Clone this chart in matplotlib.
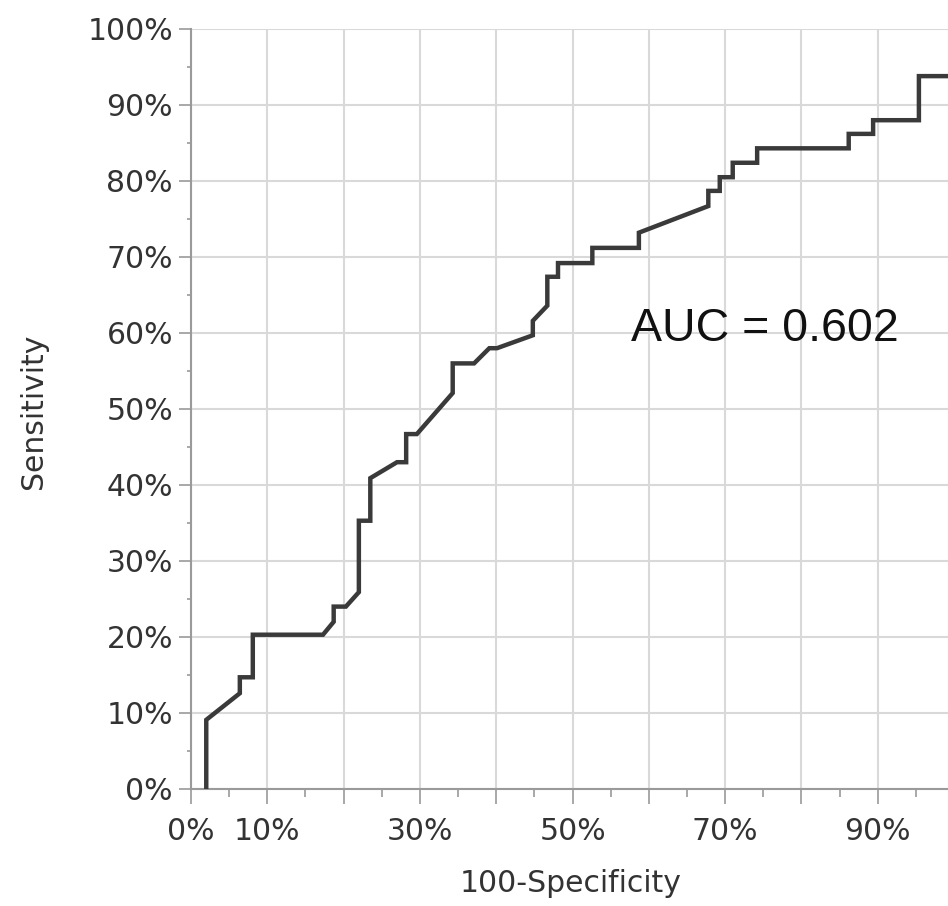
import numpy as np
import matplotlib
matplotlib.use('Agg')
import matplotlib.pyplot as plt
from matplotlib.ticker import MultipleLocator, FuncFormatter

# ROC curve (in %)
fpr = [2.0, 2.0, 6.4, 6.4, 8.1, 8.1, 17.3, 18.7, 18.7, 20.3, 22.0, 22.0,
       23.5, 23.5, 27.0, 28.2, 28.2, 29.6, 34.3, 34.3, 37.1, 39.1, 40.1,
       44.8, 44.8, 46.7, 46.7, 48.1, 48.1, 52.6, 52.6, 58.7, 58.7, 67.8,
       67.8, 69.3, 69.3, 71.0, 71.0, 74.2, 74.2, 86.2, 86.2, 89.4, 89.4,
       95.4, 95.4, 100.0]
tpr = [0.0, 9.1, 12.6, 14.7, 14.7, 20.3, 20.3, 22.0, 24.0, 24.0, 25.9, 35.3,
       35.3, 40.9, 43.0, 43.0, 46.7, 46.7, 52.1, 56.0, 56.0, 58.0, 58.0,
       59.7, 61.6, 63.6, 67.4, 67.4, 69.2, 69.2, 71.2, 71.2, 73.2, 76.7,
       78.7, 78.7, 80.5, 80.5, 82.4, 82.4, 84.3, 84.3, 86.2, 86.2, 88.0,
       88.0, 93.8, 93.8]
auc_text = 'AUC = 0.602'
xlabels_shown = [0, 10, 30, 50, 70, 90]

W, H = 948, 906
fig = plt.figure(figsize=(W/100, H/100), dpi=100)
x0, x1, ytop, ybot = 191, 948, 29, 789
ax = fig.add_axes([x0/W, 1-ybot/H, (x1-x0)/W, (ybot-ytop)/H])

ax.plot(fpr, tpr, color='#3a3a3a', lw=3.2, solid_joinstyle='miter', zorder=3)

ax.set_xlim(0, (x1-x0)/7.63)
ax.set_ylim(0, 100)

ax.xaxis.set_major_locator(MultipleLocator(10))
ax.xaxis.set_minor_locator(MultipleLocator(5))
ax.yaxis.set_major_locator(MultipleLocator(10))
ax.yaxis.set_minor_locator(MultipleLocator(5))
ax.xaxis.set_major_formatter(FuncFormatter(
    lambda v, p: '%d%%' % round(v) if round(v) in xlabels_shown else ''))
ax.yaxis.set_major_formatter(FuncFormatter(lambda v, p: '%d%%' % round(v)))

ax.grid(True, which='major', color='#d9d9d9', lw=1.5, zorder=0)
ax.set_axisbelow(True)

for s in ['top', 'right']:
    ax.spines[s].set_visible(False)
for s in ['left', 'bottom']:
    ax.spines[s].set_color('#9a9a9a')
    ax.spines[s].set_linewidth(1.5)

ax.tick_params(axis='x', which='major', length=11, width=1.2, color='#9a9a9a',
               labelsize=21.5, labelcolor='#333333', pad=9)
ax.tick_params(axis='x', which='minor', length=6, width=1.2, color='#9a9a9a')
ax.tick_params(axis='y', which='major', length=9, width=1.2, color='#9a9a9a',
               labelsize=21.5, labelcolor='#333333', pad=4)
ax.tick_params(axis='y', which='minor', length=3, width=1.2, color='#9a9a9a')

ax.text(75.2, 60.5, auc_text, family='Liberation Sans', fontsize=33.5,
        color='#111111', ha='center', va='center')

fig.text(34/W, 1-411/H, 'Sensitivity', rotation=90, fontsize=21.5,
         color='#333333', ha='center', va='center')
fig.text(571/W, 1-884/H, '100-Specificity', fontsize=21.5,
         color='#333333', ha='center', va='center')

fig.savefig('out.png', dpi=100)
